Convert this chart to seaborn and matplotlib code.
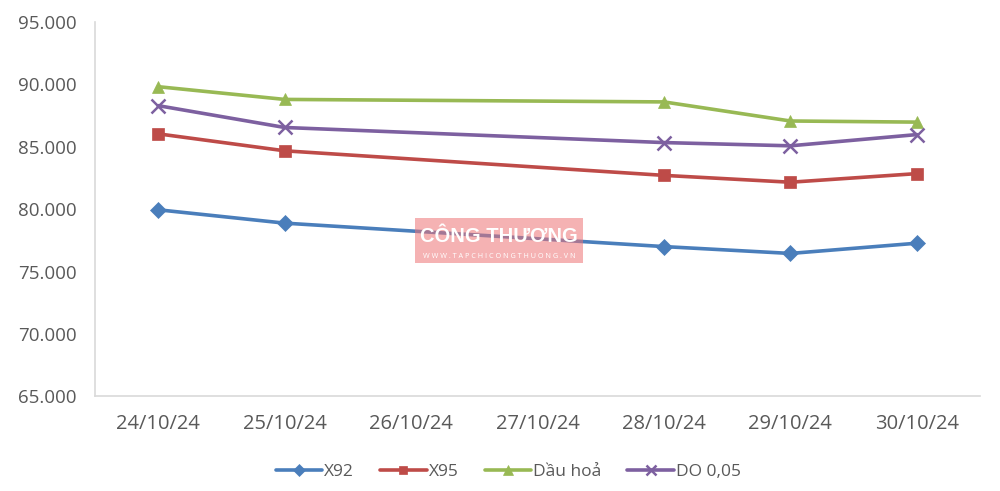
import matplotlib; matplotlib.use("Agg")
import matplotlib.pyplot as plt
import seaborn as sns
import pandas as pd
from matplotlib.patches import Rectangle

DATES     = ["24/10/24", "25/10/24", "26/10/24", "27/10/24", "28/10/24", "29/10/24", "30/10/24"]
OBS_DATES = ["24/10/24", "25/10/24", "28/10/24", "29/10/24", "30/10/24"]
X92       = [79.95, 78.88, 77.00, 76.45, 77.27]
X95       = [86.04, 84.68, 82.71, 82.16, 82.85]
DAU_HOA   = [89.82, 88.80, 88.60, 87.07, 86.98]
DO_005    = [88.30, 86.55, 85.34, 85.08, 85.98]

SERIES = [
    ("X92", X92, "#4a7ebb", "D", 8),
    ("X95", X95, "#be4b48", "s", 8),
    ("Dầu hoả", DAU_HOA, "#98b954", "^", 9),
    ("DO 0,05", DO_005, "#7d60a0", "x", 10),
]

sns.set_style("white")
plt.rcParams["font.family"] = ["Open Sans", "DejaVu Sans"]

fig = plt.figure(figsize=(10, 4.91), dpi=100)
ax = fig.add_axes([0.095, 0.193, 0.885, 0.762])

xpos = [DATES.index(d) for d in OBS_DATES]
for name, vals, col, mk, ms in SERIES:
    df = pd.DataFrame({"x": xpos, "y": vals})
    sns.lineplot(data=df, x="x", y="y", ax=ax, color=col, lw=2.6, marker=mk,
                 markersize=ms, markeredgecolor=col, markeredgewidth=1.8 if mk == "x" else 0.5,
                 label=name)

ax.set_xlim(-0.5, len(DATES) - 0.5)
ax.set_ylim(65, 95)
ax.set_xticks(range(len(DATES)))
ax.set_xticklabels(DATES, fontsize=14.5)
yt = list(range(65, 96, 5))
ax.set_yticks(yt)
ax.set_yticklabels([f"{v}.000" for v in yt], fontsize=13.5)
ax.set_xlabel(""); ax.set_ylabel("")
ax.tick_params(axis="both", length=0, colors="#595959")
ax.tick_params(axis="x", pad=13)
ax.tick_params(axis="y", pad=13)
for s in ["top", "right"]:
    ax.spines[s].set_visible(False)
for s in ["left", "bottom"]:
    ax.spines[s].set_color("#d9d9d9")
    ax.spines[s].set_linewidth(1.2)

ax.legend(loc="upper center", bbox_to_anchor=(0.467, -0.14), ncol=4, frameon=False,
          fontsize=12.5, handlelength=2.7, handletextpad=0.1, columnspacing=1.5,
          markerscale=0.75, labelcolor="#595959")

# watermark
fig.patches.append(Rectangle((0.415, 1 - 263 / 491), 0.168, 45 / 491, transform=fig.transFigure,
                             facecolor="#ee7376", alpha=0.55, edgecolor="none", zorder=5))
fig.text(0.499, 1 - 237 / 491, "CÔNG THƯƠNG", ha="center", va="center", color="white",
         fontsize=14.5, fontweight="bold", family=["Liberation Sans", "DejaVu Sans"], zorder=6)
fig.text(0.499, 1 - 256 / 491, "W W W . T A P C H I C O N G T H U O N G . V N", ha="center",
         va="center", color="white", fontsize=5.2, zorder=6)

plt.savefig("out.png", dpi=100)
plt.close()
